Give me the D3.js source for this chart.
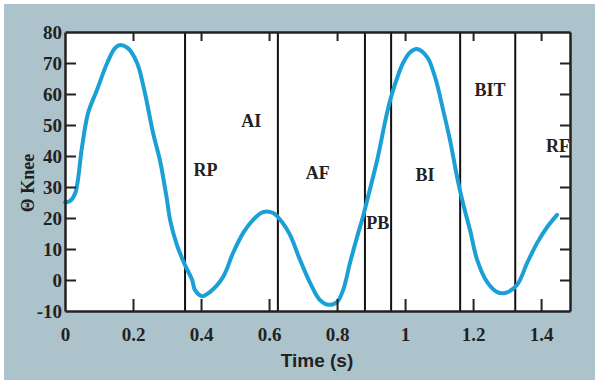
<!DOCTYPE html>
<html>
<head>
<meta charset="utf-8">
<script src="https://cdn.jsdelivr.net/npm/d3@7"></script>
<style>
  body { margin: 0; background: #fff; }
  svg { display: block; }
  .tick-label { font-family: "Liberation Serif", "Times New Roman", serif; font-weight: bold; font-size: 19px; fill: #222; }
  .phase { font-family: "Liberation Serif", "Times New Roman", serif; font-weight: bold; font-size: 18px; fill: #222; }
</style>
</head>
<body>
<svg id="chart"></svg>
<script>
// knee angle trace
const time = [0, 0.015, 0.03, 0.05, 0.068, 0.094, 0.124, 0.147, 0.162, 0.185, 0.212, 0.235, 0.259, 0.279, 0.3,
  0.309, 0.329, 0.353, 0.374, 0.382, 0.403, 0.426, 0.465, 0.494, 0.524, 0.553, 0.582, 0.612, 0.638, 0.662,
  0.691, 0.721, 0.75, 0.774, 0.8, 0.818, 0.838, 0.859, 0.876, 0.891, 0.918, 0.947, 0.965, 0.994, 1.015,
  1.035, 1.065, 1.088, 1.112, 1.132, 1.153, 1.168, 1.191, 1.212, 1.241, 1.271, 1.294, 1.329, 1.359, 1.388,
  1.418, 1.447];
const knee = [25, 25.5, 28, 42.9, 53.9, 61.3, 70, 74.8, 75.8, 74.8, 70, 60.3, 47.4, 38.7, 25.8,
  19.4, 11.3, 4.8, 0, -3.2, -5.2, -3.9, 1, 8.7, 15.2, 19.4, 21.9, 21.6, 18.7, 14.5,
  6.5, -1, -6.5, -8, -7.1, -3.2, 5.5, 13.9, 20.3, 26.8, 38.7, 53.9, 61.3, 70, 73.5,
  74.5, 71.9, 65.5, 54.8, 45.2, 33.2, 25.8, 16.1, 6.5, -0.6, -3.9, -4.2, -1.6, 5.5, 11.9,
  17.1, 21];

// phase boundaries (s) and phase labels
const phaseLines = [0.353, 0.626, 0.882, 0.959, 1.162, 1.324];
const phaseNames = ["RP", "AI", "AF", "PB", "BI", "BIT", "RF"];
const phaseTime = [0.413, 0.548, 0.743, 0.92, 1.059, 1.25, 1.45];
const phaseValue = [33.5, 49.5, 32.5, 16.5, 32, 59.4, 41.3];

const xTicks = [0, 0.2, 0.4, 0.6, 0.8, 1, 1.2, 1.4];
const yTicks = [-10, 0, 10, 20, 30, 40, 50, 60, 70, 80];

const W = 595, H = 380;
const m = { left: 65, right: 570, top: 32, bottom: 311 };

const svg = d3.select("#chart").attr("width", W).attr("height", H);

svg.append("rect").attr("x", 4).attr("y", 4).attr("width", W - 4).attr("height", H - 4).attr("fill", "#adc3cc");
svg.append("rect").attr("x", m.left).attr("y", m.top).attr("width", m.right - m.left).attr("height", m.bottom - m.top).attr("fill", "#fff");

const x = d3.scaleLinear().domain([0, 1.485]).range([m.left, m.right]);
const y = d3.scaleLinear().domain([-10, 80]).range([m.bottom, m.top]);

// phase dividers
svg.selectAll(".divider")
  .data(phaseLines)
  .enter().append("line")
  .attr("class", "divider")
  .attr("x1", d => x(d)).attr("x2", d => x(d))
  .attr("y1", m.top).attr("y2", m.bottom)
  .attr("stroke", "#111").attr("stroke-width", 2);

// curve
const line = d3.line()
  .x((d, i) => x(time[i]))
  .y(d => y(d))
  .curve(d3.curveCatmullRom);

svg.append("path")
  .attr("d", line(knee))
  .attr("fill", "none")
  .attr("stroke", "#1ba0d6")
  .attr("stroke-width", 4)
  .attr("stroke-linejoin", "round")
  .attr("stroke-linecap", "round");

// phase labels
svg.selectAll(".phase")
  .data(phaseNames)
  .enter().append("text")
  .attr("class", "phase")
  .attr("x", (d, i) => x(phaseTime[i]))
  .attr("y", (d, i) => y(phaseValue[i]))
  .attr("text-anchor", "middle")
  .text(d => d);

// cover whatever pokes past the right frame
svg.append("rect").attr("x", m.right + 1).attr("y", m.top - 2).attr("width", W - m.right).attr("height", m.bottom - m.top + 4).attr("fill", "#adc3cc");

// axes, ticks point inward
const axisColor = "#222";
const bottomAxis = svg.append("g")
  .attr("transform", "translate(0," + m.bottom + ")")
  .call(d3.axisBottom(x).tickValues(xTicks).tickSizeInner(-12).tickSizeOuter(0).tickPadding(17).tickFormat(d => String(d)));
const topAxis = svg.append("g")
  .attr("transform", "translate(0," + m.top + ")")
  .call(d3.axisTop(x).tickValues(xTicks).tickSizeInner(-9).tickSizeOuter(0).tickFormat(""));
const leftAxis = svg.append("g")
  .attr("transform", "translate(" + m.left + ",0)")
  .call(d3.axisLeft(y).tickValues(yTicks).tickSizeInner(-11).tickSizeOuter(0).tickPadding(3).tickFormat(d => String(d)));
const rightAxis = svg.append("g")
  .attr("transform", "translate(" + m.right + ",0)")
  .call(d3.axisRight(y).tickValues(yTicks).tickSizeInner(-10).tickSizeOuter(0).tickFormat(""));

[bottomAxis, topAxis, leftAxis, rightAxis].forEach(g => {
  g.select(".domain").attr("stroke", axisColor).attr("stroke-width", 2.5);
  g.selectAll(".tick line").attr("stroke", axisColor).attr("stroke-width", 2);
  g.selectAll(".tick text").attr("class", "tick-label").attr("fill", axisColor);
});
// hide the end ticks that sit on the frame
leftAxis.selectAll(".tick line").filter(d => d === -10 || d === 80).remove();
rightAxis.selectAll(".tick line").filter(d => d === -10 || d === 80).remove();
bottomAxis.selectAll(".tick line").filter(d => d === 0).remove();
topAxis.selectAll(".tick line").filter(d => d === 0).remove();

// axis titles
svg.append("text")
  .attr("x", 317).attr("y", 367)
  .attr("text-anchor", "middle")
  .style("font-family", "'Liberation Sans', Arial, sans-serif")
  .style("font-weight", "bold")
  .style("font-size", "19px")
  .attr("fill", "#222")
  .text("Time (s)");

svg.append("text")
  .attr("transform", "translate(34,183) rotate(-90)")
  .attr("text-anchor", "middle")
  .style("font-family", "'Liberation Serif', 'Times New Roman', serif")
  .style("font-weight", "bold")
  .style("font-size", "18px")
  .attr("fill", "#222")
  .text("Θ Knee");
</script>
</body>
</html>
